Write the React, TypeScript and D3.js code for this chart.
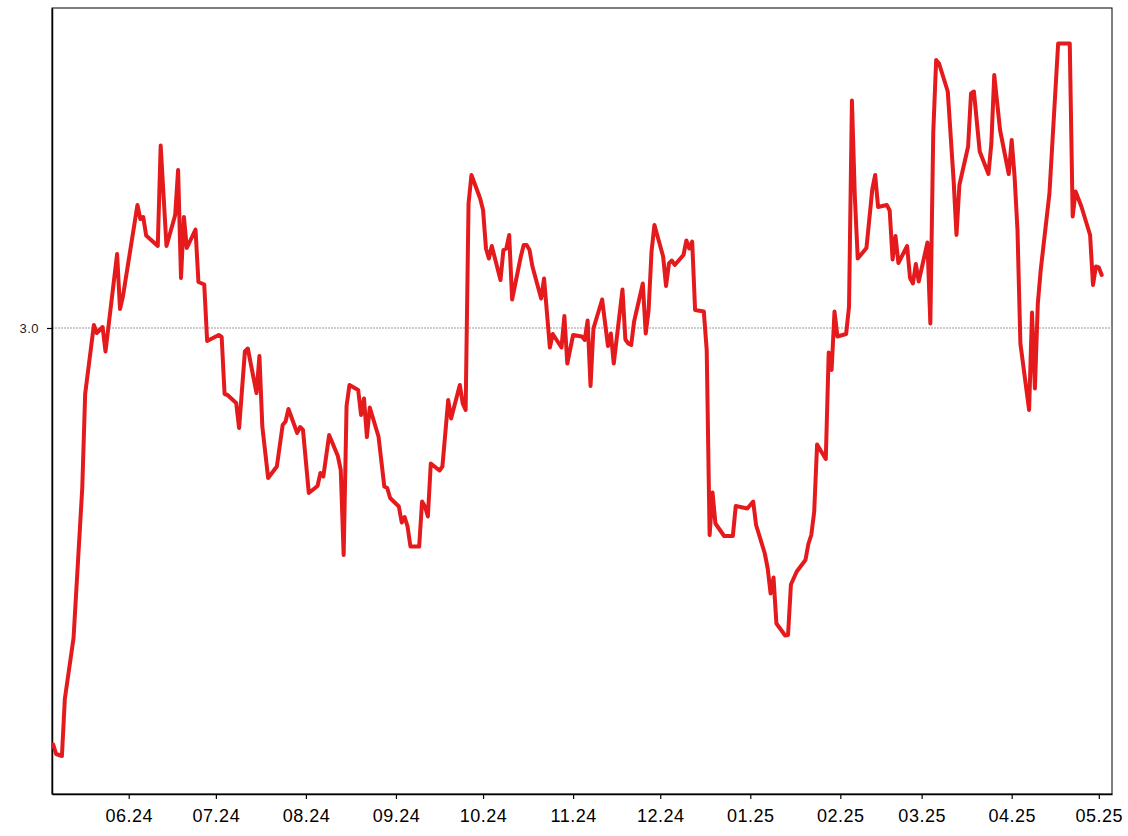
import * as d3 from 'd3';
import React, { useEffect, useRef } from 'react';

// readings of the series, business days
const dates = [
  '2024-05-06', '2024-05-07', '2024-05-09', '2024-05-10', '2024-05-13', '2024-05-16', '2024-05-17',
  '2024-05-20', '2024-05-21', '2024-05-23', '2024-05-24', '2024-05-28', '2024-05-29', '2024-05-30',
  '2024-06-04', '2024-06-05', '2024-06-06', '2024-06-07', '2024-06-11', '2024-06-12', '2024-06-14',
  '2024-06-17', '2024-06-18', '2024-06-19', '2024-06-20', '2024-06-21', '2024-06-24', '2024-06-25',
  '2024-06-27', '2024-06-28',
  '2024-07-02', '2024-07-03', '2024-07-04', '2024-07-05', '2024-07-08', '2024-07-09', '2024-07-11',
  '2024-07-12', '2024-07-15', '2024-07-16', '2024-07-17', '2024-07-19', '2024-07-22', '2024-07-24',
  '2024-07-25', '2024-07-26', '2024-07-29', '2024-07-30', '2024-07-31',
  '2024-08-02', '2024-08-05', '2024-08-06', '2024-08-07', '2024-08-09', '2024-08-12', '2024-08-13',
  '2024-08-14', '2024-08-15', '2024-08-16', '2024-08-19', '2024-08-20', '2024-08-21', '2024-08-22',
  '2024-08-23', '2024-08-26', '2024-08-28', '2024-08-29', '2024-08-30',
  '2024-09-02', '2024-09-03', '2024-09-04', '2024-09-05', '2024-09-06', '2024-09-09', '2024-09-10',
  '2024-09-11', '2024-09-12', '2024-09-13', '2024-09-16', '2024-09-17', '2024-09-19', '2024-09-20',
  '2024-09-23', '2024-09-24', '2024-09-25', '2024-09-26', '2024-09-27', '2024-09-30',
  '2024-10-01', '2024-10-02', '2024-10-03', '2024-10-04', '2024-10-07', '2024-10-08', '2024-10-09',
  '2024-10-10', '2024-10-11', '2024-10-14', '2024-10-15', '2024-10-16', '2024-10-17', '2024-10-18',
  '2024-10-21', '2024-10-22', '2024-10-24', '2024-10-25', '2024-10-28', '2024-10-29', '2024-10-30',
  '2024-11-01', '2024-11-04', '2024-11-05', '2024-11-06', '2024-11-07', '2024-11-08', '2024-11-11',
  '2024-11-13', '2024-11-14', '2024-11-15', '2024-11-18', '2024-11-19', '2024-11-20', '2024-11-21',
  '2024-11-22', '2024-11-25', '2024-11-26', '2024-11-27', '2024-11-28', '2024-11-29',
  '2024-12-02', '2024-12-03', '2024-12-04', '2024-12-05', '2024-12-06', '2024-12-09', '2024-12-10',
  '2024-12-11', '2024-12-12', '2024-12-13', '2024-12-16', '2024-12-17', '2024-12-18', '2024-12-19',
  '2024-12-20', '2024-12-23', '2024-12-26', '2024-12-27', '2024-12-31',
  '2025-01-02', '2025-01-03', '2025-01-06', '2025-01-07', '2025-01-08', '2025-01-09', '2025-01-10',
  '2025-01-13', '2025-01-14', '2025-01-15', '2025-01-17', '2025-01-20', '2025-01-21', '2025-01-22',
  '2025-01-23', '2025-01-24', '2025-01-27', '2025-01-28', '2025-01-29', '2025-01-30', '2025-01-31',
  '2025-02-03', '2025-02-04', '2025-02-05', '2025-02-06', '2025-02-07', '2025-02-10', '2025-02-12',
  '2025-02-13', '2025-02-14', '2025-02-17', '2025-02-18', '2025-02-19', '2025-02-20', '2025-02-21',
  '2025-02-24', '2025-02-25', '2025-02-26', '2025-02-27', '2025-02-28',
  '2025-03-03', '2025-03-04', '2025-03-05', '2025-03-06', '2025-03-07', '2025-03-10', '2025-03-12',
  '2025-03-13', '2025-03-14', '2025-03-17', '2025-03-18', '2025-03-19', '2025-03-21', '2025-03-24',
  '2025-03-25', '2025-03-26', '2025-03-28', '2025-03-31',
  '2025-04-01', '2025-04-02', '2025-04-03', '2025-04-04', '2025-04-07', '2025-04-08', '2025-04-09',
  '2025-04-10', '2025-04-11', '2025-04-14', '2025-04-17', '2025-04-21', '2025-04-22', '2025-04-23',
  '2025-04-25', '2025-04-28', '2025-04-29', '2025-04-30',
  '2025-05-01', '2025-05-02',
];

const values = [
  2.167, 2.148, 2.144, 2.258, 2.38, 2.68, 2.868, 3.006, 2.99, 3.002, 2.953, 3.148, 3.038, 3.063,
  3.246, 3.218, 3.222, 3.185, 3.164, 3.365, 3.164, 3.226, 3.316, 3.1, 3.222, 3.16, 3.197, 3.092,
  3.087, 2.974,
  2.986, 2.982, 2.868, 2.866, 2.85, 2.8, 2.953, 2.959, 2.87, 2.944, 2.803, 2.7, 2.723, 2.806,
  2.813, 2.838, 2.79, 2.802, 2.796,
  2.67, 2.684, 2.71, 2.703, 2.786, 2.744, 2.716, 2.546, 2.844, 2.886, 2.876, 2.826, 2.859, 2.782,
  2.841, 2.783, 2.683, 2.68, 2.66,
  2.643, 2.611, 2.622, 2.603, 2.563, 2.563, 2.653, 2.643, 2.623, 2.729, 2.715, 2.723, 2.856, 2.819,
  2.886, 2.849, 2.836, 3.249, 3.306, 3.259,
  3.236, 3.159, 3.139, 3.164, 3.096, 3.156, 3.159, 3.186, 3.057, 3.143, 3.166, 3.166, 3.156, 3.123,
  3.059, 3.099, 2.961, 2.988, 2.961, 3.024, 2.929,
  2.986, 2.983, 2.976, 3.015, 2.884, 2.999, 3.057, 2.964, 2.989, 2.929, 3.077, 2.977, 2.969, 2.966,
  3.013, 3.089, 2.989, 3.036, 3.153, 3.206,
  3.143, 3.084, 3.129, 3.135, 3.126, 3.146, 3.175, 3.159, 3.173, 3.036, 3.033, 2.956, 2.586, 2.671,
  2.609, 2.584, 2.584, 2.644, 2.639,
  2.653, 2.606, 2.549, 2.519, 2.469, 2.501, 2.409, 2.385, 2.386, 2.487, 2.513, 2.536, 2.568, 2.586,
  2.632, 2.767, 2.738, 2.951, 2.916, 3.033, 2.983,
  2.988, 3.043, 3.455, 3.263, 3.139, 3.16, 3.277, 3.306, 3.242, 3.246, 3.235, 3.137, 3.184, 3.13,
  3.164, 3.1, 3.089, 3.128, 3.093,
  3.171, 3.009, 3.391, 3.536, 3.529, 3.473, 3.296, 3.186, 3.286, 3.363, 3.469, 3.473, 3.353, 3.308,
  3.369, 3.506, 3.396, 3.308,
  3.376, 3.303, 3.196, 2.969, 2.836, 3.031, 2.879, 3.049, 3.116, 3.269, 3.569, 3.569, 3.223, 3.273,
  3.243, 3.186, 3.086, 3.123,
  3.121, 3.106,
];

const yTicks = [3.0];
const refLevel = 3.0;

const W = 1128;
const H = 836;
const margin = { top: 8, right: 16, bottom: 42, left: 52 };

const App = () => {
  const svgRef = useRef<SVGSVGElement>(null);

  useEffect(() => {
    const svg = d3.select(svgRef.current);
    svg.selectAll('*').remove();

    const width = W - margin.left - margin.right;
    const height = H - margin.top - margin.bottom;
    const parse = d3.timeParse('%Y-%m-%d');
    const data = dates.map((d, i) => ({ date: parse(d) as Date, value: values[i] }));

    const x = d3
      .scaleTime()
      .domain([new Date(2024, 4, 5, 14), new Date(2025, 4, 5, 13)])
      .range([0, width]);
    const y = d3.scaleLinear().domain([2.068, 3.64]).range([height, 0]);

    const g = svg.append('g').attr('transform', `translate(${margin.left},${margin.top})`);

    g.append('rect')
      .attr('width', width)
      .attr('height', height)
      .attr('fill', 'none')
      .attr('stroke', '#000')
      .attr('stroke-width', 1);

    g.append('line')
      .attr('x1', 0)
      .attr('x2', width)
      .attr('y1', y(refLevel))
      .attr('y2', y(refLevel))
      .attr('stroke', '#999')
      .attr('stroke-width', 1)
      .attr('stroke-dasharray', '2,1');

    const xAxis = g
      .append('g')
      .attr('transform', `translate(0,${height})`)
      .call(
        d3
          .axisBottom(x)
          .ticks(d3.timeMonth.every(1))
          .tickFormat((d) => d3.timeFormat('%m.%y')(d as Date))
          .tickSize(5)
          .tickSizeOuter(0)
          .tickPadding(10),
      );
    xAxis.select('.domain').attr('stroke', '#000').attr('stroke-width', 1.5);
    xAxis.selectAll('.tick line').attr('stroke', '#000').attr('stroke-width', 1.2);
    xAxis
      .selectAll('.tick text')
      .attr('fill', '#000')
      .style('font-family', '"Liberation Sans", Arial, sans-serif')
      .style('font-size', '18px')
      .style('letter-spacing', '0.5px');

    const yAxis = g
      .append('g')
      .call(
        d3
          .axisLeft(y)
          .tickValues(yTicks)
          .tickFormat(d3.format('.1f'))
          .tickSize(5)
          .tickSizeOuter(0)
          .tickPadding(8),
      );
    yAxis.select('.domain').attr('stroke', '#000').attr('stroke-width', 1.5);
    yAxis.selectAll('.tick line').attr('stroke', '#000').attr('stroke-width', 1.2);
    yAxis
      .selectAll('.tick text')
      .attr('fill', '#222')
      .style('font-family', '"Liberation Sans", Arial, sans-serif')
      .style('font-size', '13px')
      .style('letter-spacing', '0.5px');

    const line = d3
      .line<{ date: Date; value: number }>()
      .x((d) => x(d.date))
      .y((d) => y(d.value));

    g.append('path')
      .datum(data)
      .attr('d', line)
      .attr('fill', 'none')
      .attr('stroke', '#e41a1c')
      .attr('stroke-width', 4)
      .attr('stroke-linejoin', 'round')
      .attr('stroke-linecap', 'round');
  }, []);

  return (
    <div style={{ position: 'absolute', left: 0, top: 0 }}>
      <svg ref={svgRef} width={W} height={H} style={{ display: 'block', background: '#fff' }}></svg>
    </div>
  );
};

export default App;
